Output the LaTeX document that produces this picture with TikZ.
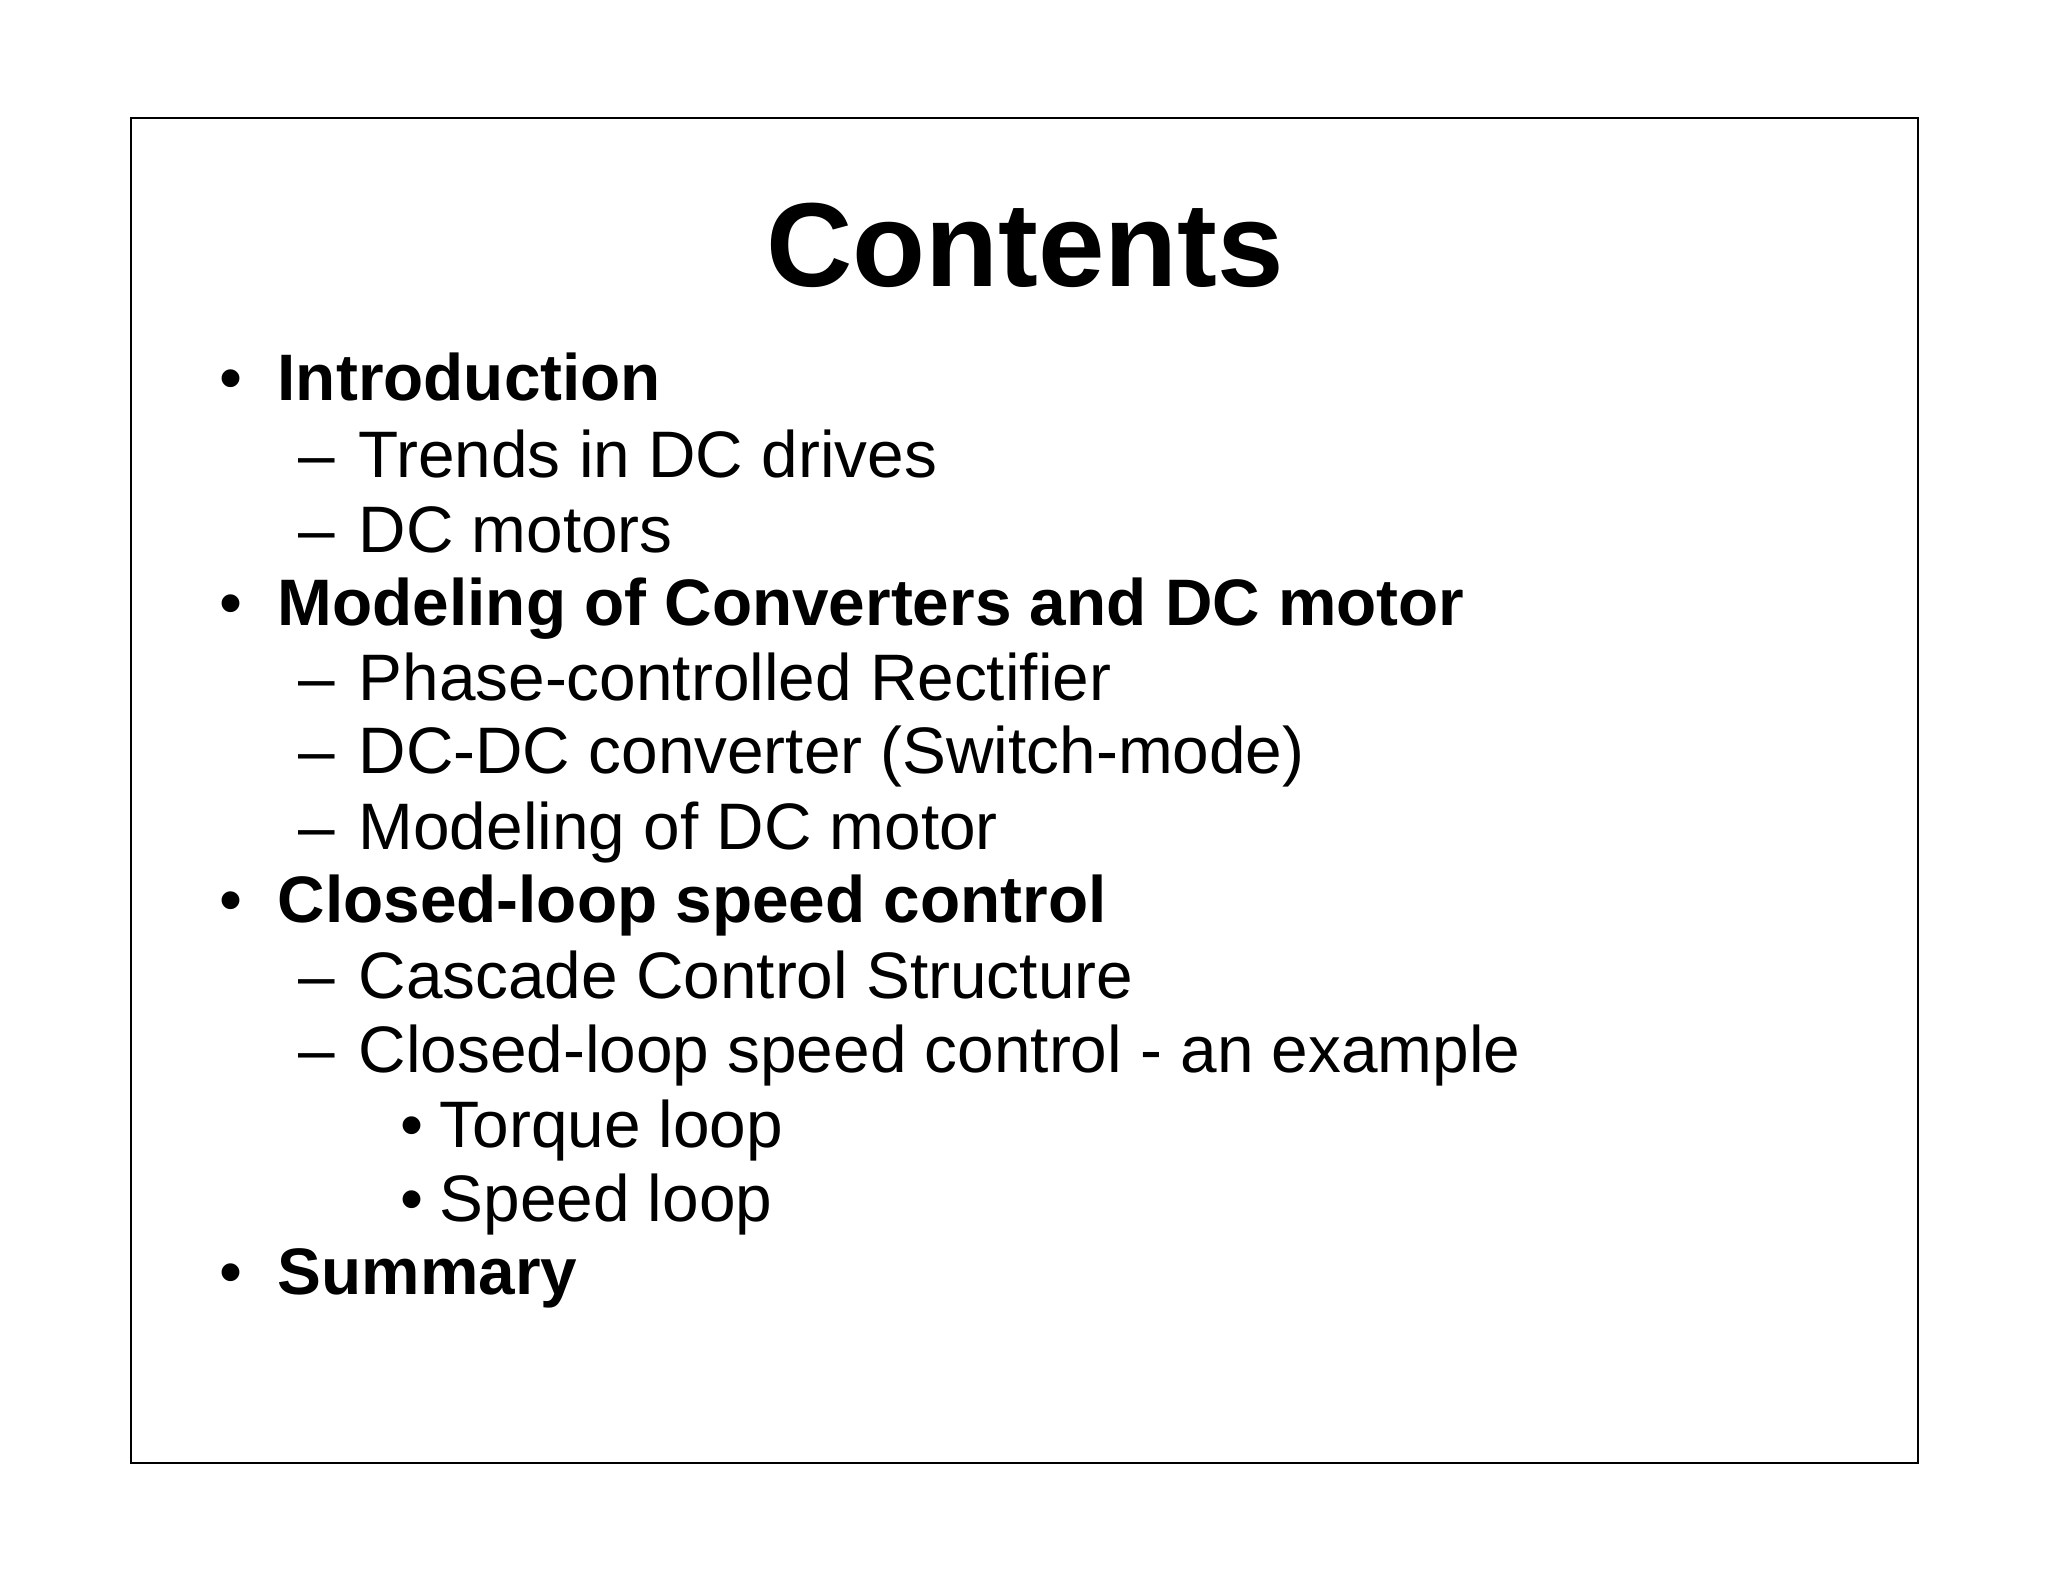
\documentclass[tikz,border=0pt]{standalone}
\usepackage{fontspec}
\setmainfont{Liberation Sans}
\begin{document}
\begin{tikzpicture}[x=1cm,y=1cm,
  txt/.style={anchor=base west,inner sep=0pt,font=\fontsize{18.7pt}{22pt}\selectfont},
  btxt/.style={txt,font=\fontsize{18.7pt}{22pt}\selectfont\bfseries}]
\useasboundingbox (0,0) rectangle (20.48,-15.82);
\fill[white] (0,0) rectangle (20.48,-15.82);
\draw[line width=0.8pt] (1.31,-1.18) rectangle (19.18,-14.63);
\node[anchor=base,inner sep=0pt,font=\fontsize{34pt}{40pt}\selectfont\bfseries] (title) at (10.25,-2.87) {Contents};
\node[txt] (b1) at (2.19,-4.01) {•};
\node[btxt] (i1) at (2.77,-4.01) {Introduction};
\node[txt] (d1) at (2.98,-4.78) {–};
\node[txt] (t1) at (3.58,-4.78) {Trends in DC drives};
\node[txt] (d2) at (2.98,-5.52) {–};
\node[txt] (t2) at (3.58,-5.52) {DC motors};
\node[txt] (b2) at (2.19,-6.26) {•};
\node[btxt] (i2) at (2.77,-6.26) {Modeling of Converters and DC motor};
\node[txt] (d3) at (2.98,-7.00) {–};
\node[txt] (t3) at (3.58,-7.00) {Phase-controlled Rectifier};
\node[txt] (d4) at (2.98,-7.74) {–};
\node[txt] (t4) at (3.58,-7.74) {DC-DC converter (Switch-mode)};
\node[txt] (d5) at (2.98,-8.49) {–};
\node[txt] (t5) at (3.58,-8.49) {Modeling of DC motor};
\node[txt] (b3) at (2.19,-9.22) {•};
\node[btxt] (i3) at (2.77,-9.22) {Closed-loop speed control};
\node[txt] (d6) at (2.98,-9.98) {–};
\node[txt] (t6) at (3.58,-9.98) {Cascade Control Structure};
\node[txt] (d7) at (2.98,-10.72) {–};
\node[txt] (t7) at (3.58,-10.72) {Closed-loop speed control - an example};
\node[txt] (s1) at (4.0,-11.47) {•};
\node[txt] (u1) at (4.39,-11.47) {Torque loop};
\node[txt] (s2) at (4.0,-12.21) {•};
\node[txt] (u2) at (4.39,-12.21) {Speed loop};
\node[txt] (b4) at (2.19,-12.94) {•};
\node[btxt] (i4) at (2.77,-12.94) {Summary};
\end{tikzpicture}
\end{document}
